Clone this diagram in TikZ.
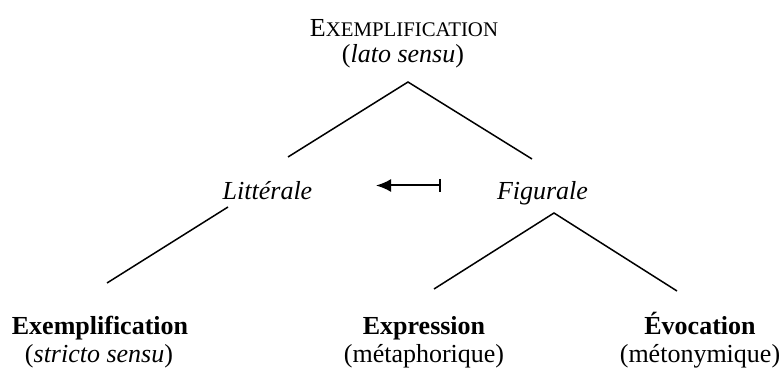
\documentclass[tikz,border=0pt]{standalone}
\usepackage{fontspec}
\setmainfont{Liberation Serif}
\usetikzlibrary{arrows.meta}
\begin{document}
\begin{tikzpicture}
[
    x=0.5pt, y=-0.5pt,
    every node/.style={inner sep=0pt, anchor=base, font=\fontsize{13}{15.5}\selectfont},
    branch/.style={line width=0.75pt},
]
\useasboundingbox (0,0) rectangle (783,369);
\node (root) at (404,37) {E{\fontsize{10.4}{12}\selectfont XEMPLIFICATION}};
\node (rootnote) at (403,63) {(\textit{lato sensu})};
\node (litt) at (267.5,200) {\textit{Littérale}};
\node (fig) at (542.5,200) {\textit{Figurale}};
\node (exempl) at (100,335) {\textbf{Exemplification}};
\node (exemplnote) at (99,363) {(\textit{stricto sensu})};
\node (expr) at (424,335) {\textbf{Expression}};
\node (exprnote) at (424,363) {(métaphorique)};
\node (evoc) at (700,335) {\textbf{Évocation}};
\node (evocnote) at (700,363) {(métonymique)};
\coordinate (root top) at (408,82);
\coordinate (root left) at (288,157);
\coordinate (root right) at (532,159);
\coordinate (litt top) at (228,207);
\coordinate (litt left) at (107,283);
\coordinate (fig top) at (554,213);
\coordinate (fig left) at (434,289);
\coordinate (fig right) at (677,291);
\coordinate (arrow tail) at (441,185.5);
\coordinate (arrow tip) at (376,185.5);
\draw[branch] (root left) -- (root top) -- (root right);
\draw[branch] (litt top) -- (litt left);
\draw[branch] (fig left) -- (fig top) -- (fig right);
\draw[line width=1pt, {Latex[length=7.5pt,width=6.5pt]}-{Bar[width=6.5pt]}] (arrow tip) -- (arrow tail);
\end{tikzpicture}
\end{document}
